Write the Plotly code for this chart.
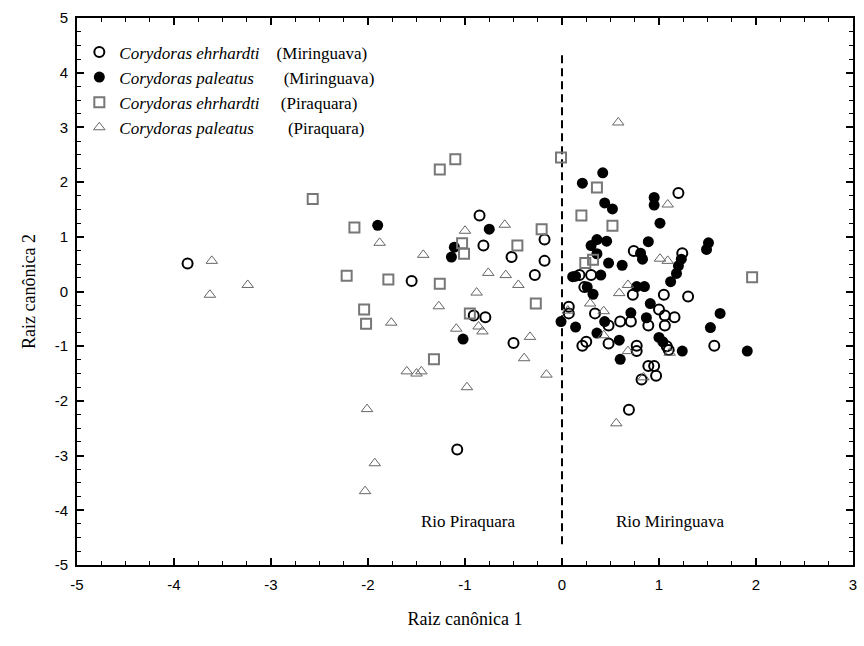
import plotly.graph_objects as go

# Corydoras ehrhardti (Miringuava) - open circles
ce_mir_x = [-3.86, -1.55, -0.85, -0.81, -0.91, -0.79, -0.52, -0.18, -0.18, -0.28, -0.50, -1.08,
            0.07, 0.07, 1.20, 0.74, 1.24, 0.18, 0.30, 0.23, 0.73, 1.05, 1.30, 0.34, 0.48, 0.60,
            0.71, 0.89, 1.00, 1.06, 1.16, 1.06, 0.25, 0.21, 0.48, 1.08, 1.10, 1.57, 0.77, 0.77,
            0.89, 0.95, 0.97, 0.82, 0.69]
ce_mir_y = [0.51, 0.19, 1.39, 0.84, -0.44, -0.47, 0.63, 0.95, 0.56, 0.30, -0.94, -2.89,
            -0.28, -0.40, 1.80, 0.74, 0.70, 0.30, 0.30, 0.08, -0.06, -0.06, -0.09, -0.40, -0.62, -0.55,
            -0.55, -0.62, -0.33, -0.44, -0.47, -0.62, -0.92, -0.99, -0.95, -1.00, -1.07, -0.99, -0.99, -1.09,
            -1.36, -1.36, -1.54, -1.61, -2.16]

# Corydoras paleatus (Miringuava) - filled circles
cp_mir_x = [-1.90, -0.75, -1.11, -1.14, -1.02, -0.01, 0.42, 0.21, 0.44, 0.52, 0.95, 0.95, 1.01,
            0.36, 0.30, 0.46, 0.89, 1.51, 1.49, 0.81, 0.83, 1.23, 1.20, 1.18, 0.36, 0.48, 0.62,
            0.11, 0.14, 0.40, 1.12, 0.26, 0.32, 0.77, 0.85, 0.91, 0.14, 0.44, 0.71, 0.87, 1.63,
            1.53, 0.36, 0.59, 1.00, 1.04, 1.24, 1.91, 0.60]
cp_mir_y = [1.21, 1.14, 0.81, 0.63, -0.87, -0.55, 2.17, 1.98, 1.62, 1.51, 1.72, 1.58, 1.25,
            0.95, 0.84, 0.92, 0.91, 0.89, 0.77, 0.70, 0.59, 0.59, 0.47, 0.33, 0.69, 0.52, 0.48,
            0.27, 0.28, 0.30, 0.18, 0.08, -0.05, 0.09, 0.09, -0.22, -0.65, -0.55, -0.39, -0.48, -0.40,
            -0.66, -0.76, -0.89, -0.84, -0.92, -1.09, -1.09, -1.24]

# Corydoras ehrhardti (Piraquara) - open squares
ce_pir_x = [-2.57, -1.26, -1.10, -2.14, -0.21, -1.03, -0.46, -1.01, -2.22, -1.79, -1.26, -0.27,
            -2.04, -2.02, -0.95, -1.32, -0.01, 0.36, 0.20, 0.52, 0.32, 0.24, 1.96]
ce_pir_y = [1.69, 2.23, 2.42, 1.17, 1.14, 0.88, 0.84, 0.69, 0.29, 0.22, 0.14, -0.22,
            -0.33, -0.59, -0.40, -1.24, 2.45, 1.90, 1.39, 1.20, 0.58, 0.52, 0.26]

# Corydoras paleatus (Piraquara) - open triangles
cp_pir_x = [-3.61, -3.63, -3.24, -0.59, -1.00, -1.88, -1.43, -0.76, -0.58, -0.45, -0.88, -1.27,
            -1.76, -0.86, -0.82, -1.09, -0.33, -0.39, -1.60, -1.50, -1.45, -0.16, -0.98, -2.01,
            -1.93, -2.03, 0.58, 1.09, 1.01, 1.09, 0.68, 0.59, 0.29, 0.06, 0.43, 0.43, 0.68, 1.11,
            0.84, 0.56]
cp_pir_y = [0.56, -0.06, 0.12, 1.22, 1.11, 0.89, 0.67, 0.34, 0.30, 0.12, -0.02, -0.27,
            -0.57, -0.64, -0.73, -0.68, -0.83, -1.22, -1.46, -1.50, -1.46, -1.52, -1.75, -2.15,
            -3.14, -3.65, 3.09, 1.59, 0.60, 0.56, 0.12, -0.03, -0.22, -0.35, -0.36, -0.80, -1.09, -1.12,
            -1.57, -2.41]

divider_x = [0, 0]
divider_y = [-4.62, 4.38]

x_ticks = [-5, -4, -3, -2, -1, 0, 1, 2, 3]
y_ticks = [-5, -4, -3, -2, -1, 0, 1, 2, 3, 4, 5]

serif = "Liberation Serif, Times New Roman, serif"
sans = "Liberation Sans, Arial, sans-serif"
GRAY = "#777777"
EN = "\u2002"  # en space (not collapsed by SVG)

fig = go.Figure()
fig.add_trace(go.Scatter(x=divider_x, y=divider_y, mode="lines", showlegend=False,
                         line=dict(color="black", width=2, dash="8px,5px"), hoverinfo="skip"))
fig.add_trace(go.Scatter(x=ce_mir_x, y=ce_mir_y, mode="markers",
                         name="<i>Corydoras ehrhardti</i>" + EN * 2 + "(Miringuava)",
                         marker=dict(symbol="circle-open", size=10, color="black", line=dict(width=2, color="black"))))
fig.add_trace(go.Scatter(x=cp_mir_x, y=cp_mir_y, mode="markers",
                         name="<i>Corydoras paleatus</i>" + EN * 3 + " (Miringuava)",
                         marker=dict(symbol="circle", size=11, color="black", line=dict(width=0))))
fig.add_trace(go.Scatter(x=ce_pir_x, y=ce_pir_y, mode="markers",
                         name="<i>Corydoras ehrhardti</i>" + EN * 2 + " (Piraquara)",
                         marker=dict(symbol="square-open", size=10, color=GRAY, line=dict(width=2, color=GRAY))))
fig.add_trace(go.Scatter(x=cp_pir_x, y=cp_pir_y, mode="markers",
                         name="<i>Corydoras paleatus</i>" + EN * 4 + "(Piraquara)",
                         marker=dict(symbol="triangle-up-open", size=10, color="#666666", line=dict(width=1, color="#666666"))))

fig.add_annotation(x=-0.97, y=-4.2, text="Rio Piraquara", showarrow=False,
                   font=dict(family=serif, size=17, color="black"))
fig.add_annotation(x=1.12, y=-4.2, text="Rio Miringuava", showarrow=False,
                   font=dict(family=serif, size=17, color="black"))

axis_common = dict(showgrid=False, zeroline=False, showline=True, linecolor="black", linewidth=2,
                   mirror="allticks", ticks="inside", ticklen=7, tickwidth=1.5, tickcolor="black",
                   tickfont=dict(family=sans, size=15, color="black"),
                   minor=dict(ticks="inside", ticklen=4, tickwidth=1, tickcolor="black", dtick=0.25))

fig.update_xaxes(range=[-5, 3], tickvals=x_ticks, ticktext=[str(v) for v in x_ticks],
                 title=dict(text="Raiz canônica 1", font=dict(family=serif, size=18, color="black"), standoff=20),
                 ticklabelstandoff=5, **axis_common)
fig.update_yaxes(range=[-5, 5], tickvals=y_ticks, ticktext=[str(v) for v in y_ticks],
                 title=dict(text="Raiz canônica 2", font=dict(family=serif, size=18, color="black"), standoff=14),
                 ticklabelstandoff=4, **axis_common)

fig.update_layout(
    width=864, height=646,
    margin=dict(l=77, r=7, t=18, b=81),
    paper_bgcolor="white", plot_bgcolor="white",
    showlegend=True,
    legend=dict(x=0.003, y=0.97, xanchor="left", yanchor="top", bgcolor="rgba(0,0,0,0)",
                font=dict(family=serif, size=17, color="black"), itemsizing="trace",
                tracegroupgap=0),
)

fig.write_html("out.html")
